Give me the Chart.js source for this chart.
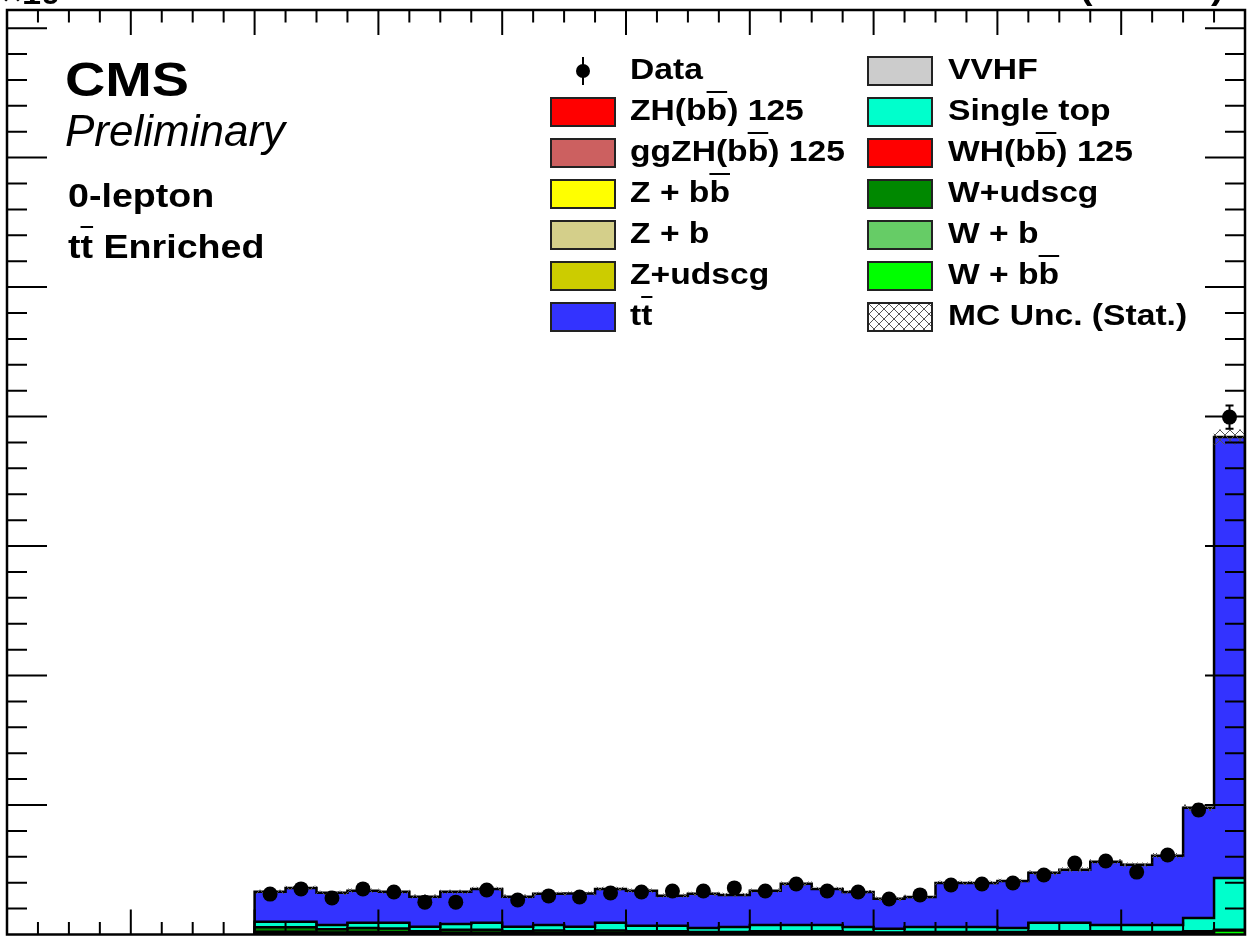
<!DOCTYPE html>
<html>
<head>
<meta charset="utf-8">
<script src="https://cdn.jsdelivr.net/npm/chart.js@4.4.0/dist/chart.umd.min.js"></script>
<style>
  html, body { margin: 0; padding: 0; background: #fff; }
  #wrap { position: relative; width: 1247px; height: 940px; overflow: hidden; font-family: "Liberation Sans", Arial, sans-serif; }
  #wrap canvas { position: absolute; left: 0; top: 0; }
  .t { position: absolute; white-space: nowrap; color: #000; font-weight: bold; line-height: 1; transform-origin: 0 0; transform: scaleX(1.14); }
  .lt { font-size: 29.5px; }
  .ob { text-decoration: overline; text-decoration-thickness: 2px; }
  .box { position: absolute; width: 66px; height: 30px; box-sizing: border-box; border: 2px solid #222; }
</style>
</head>
<body>
<div id="wrap">
  <canvas id="plot" width="1247" height="940"></canvas>

  <div class="t" style="left:2px;top:-21px;font-size:30px;">×10³</div>
  <div class="t" style="left:1080px;top:-29px;font-size:33px;">(13 TeV)</div>

  <div class="t" style="left:65px;top:55px;font-size:49px;">CMS</div>
  <div class="t" style="left:65px;top:109px;font-size:44px;font-weight:normal;font-style:italic;transform:none;">Preliminary</div>
  <div class="t" style="left:68px;top:179px;font-size:33px;">0-lepton</div>
  <div class="t" style="left:68px;top:230px;font-size:33px;">t<span class="ob">t</span> Enriched</div>

  <!-- legend, left column -->
  <div style="position:absolute;left:582px;top:57px;width:2px;height:28px;background:#000;"></div>
  <div style="position:absolute;left:576px;top:64px;width:14px;height:14px;border-radius:50%;background:#000;"></div>
  <div class="t lt" style="left:630px;top:54px;">Data</div>
  <div class="box" style="left:550px;top:97px;background:#ff0000;"></div>
  <div class="t lt" style="left:630px;top:95px;">ZH(b<span class="ob">b</span>) 125</div>
  <div class="box" style="left:550px;top:138px;background:#cc6060;"></div>
  <div class="t lt" style="left:630px;top:136px;">ggZH(b<span class="ob">b</span>) 125</div>
  <div class="box" style="left:550px;top:179px;background:#ffff00;"></div>
  <div class="t lt" style="left:630px;top:177px;">Z + b<span class="ob">b</span></div>
  <div class="box" style="left:550px;top:220px;background:#d4cf8a;"></div>
  <div class="t lt" style="left:630px;top:218px;">Z + b</div>
  <div class="box" style="left:550px;top:261px;background:#cccc00;"></div>
  <div class="t lt" style="left:630px;top:259px;">Z+udscg</div>
  <div class="box" style="left:550px;top:302px;background:#3333ff;"></div>
  <div class="t lt" style="left:630px;top:300px;">t<span class="ob">t</span></div>

  <!-- legend, right column -->
  <div class="box" style="left:867px;top:56px;background:#cccccc;"></div>
  <div class="t lt" style="left:948px;top:54px;">VVHF</div>
  <div class="box" style="left:867px;top:97px;background:#00ffcc;"></div>
  <div class="t lt" style="left:948px;top:95px;">Single top</div>
  <div class="box" style="left:867px;top:138px;background:#ff0000;"></div>
  <div class="t lt" style="left:948px;top:136px;">WH(b<span class="ob">b</span>) 125</div>
  <div class="box" style="left:867px;top:179px;background:#008800;"></div>
  <div class="t lt" style="left:948px;top:177px;">W+udscg</div>
  <div class="box" style="left:867px;top:220px;background:#66cc66;"></div>
  <div class="t lt" style="left:948px;top:218px;">W + b</div>
  <div class="box" style="left:867px;top:261px;background:#00ff00;"></div>
  <div class="t lt" style="left:948px;top:259px;">W + b<span class="ob">b</span></div>
  <div class="box" id="hatchBox" style="left:867px;top:302px;background:#fff;"></div>
  <div class="t lt" style="left:948px;top:300px;">MC Unc. (Stat.)</div>
</div>

<script>
  // binning of the histogram (first filled bin starts at 0.2, 32 bins of 0.025)
  var binStart = 0.2;
  var binWidth = 0.025;

  // data, events per bin
  var dataCounts = [156, 176, 141, 176, 164, 125, 125, 172, 133, 149, 145, 160, 164, 168, 168, 180,
                    168, 195, 168, 164, 137, 153, 191, 195, 199, 230, 276, 284, 241, 307, 481, 1998];
  var dataErr = [12.5, 13.3, 11.9, 13.3, 12.8, 11.2, 11.2, 13.1, 11.5, 12.2, 12.0, 12.6, 12.8, 13.0, 13.0, 13.4,
                 13.0, 14.0, 13.0, 12.8, 11.7, 12.4, 13.8, 14.0, 14.1, 15.2, 16.6, 16.9, 15.5, 17.5, 21.9, 44.7];

  // MC backgrounds, events per bin
  var ttbar = [116, 131, 124, 124, 120, 116, 124, 131, 116, 120, 128, 131, 135, 116, 132, 124,
               132, 159, 139, 135, 116, 116, 170, 170, 182, 193, 205, 244, 232, 267, 425, 1703];
  var singleTop = [21, 21, 17, 20, 22, 17, 23, 27, 17, 22, 17, 30, 21, 21, 15, 19,
                   24, 24, 24, 19, 14, 19, 19, 19, 15, 32, 32, 24, 27, 27, 51, 200];
  var wUdscg = [17, 17, 12, 15, 14, 8, 11, 11, 8, 9, 8, 9, 8, 8, 6, 6,
                8, 8, 8, 6, 5, 6, 6, 6, 6, 8, 8, 8, 6, 6, 8, 2];
  var wB = [6, 6, 4, 5, 5, 3, 4, 4, 3, 3, 3, 3, 3, 3, 2, 2,
            3, 3, 3, 2, 2, 2, 2, 2, 2, 3, 3, 3, 2, 2, 3, 1];
  var wBB = [5, 5, 4, 5, 4, 2, 3, 3, 2, 3, 2, 3, 2, 2, 2, 2,
             2, 2, 2, 2, 1, 2, 2, 2, 2, 2, 2, 2, 2, 2, 2, 15];
  var mcStatUnc = [7, 7, 7, 7, 7, 7, 7, 7, 7, 7, 7, 7, 7, 7, 7, 7,
                   7, 7, 7, 7, 7, 7, 7, 7, 7, 8, 8, 8, 8, 9, 12, 28];

  var nBins = dataCounts.length;
  var binEnd = binStart + nBins * binWidth;

  // hatch pattern for the MC uncertainty band
  var pc = document.createElement('canvas');
  pc.width = 10; pc.height = 10;
  var pg = pc.getContext('2d');
  pg.strokeStyle = '#555';
  pg.lineWidth = 1;
  pg.beginPath();
  pg.moveTo(0, 0); pg.lineTo(10, 10);
  pg.moveTo(10, 0); pg.lineTo(0, 10);
  pg.stroke();
  var hatch = pg.createPattern(pc, 'repeat');
  document.getElementById('hatchBox').style.backgroundImage = 'url(' + pc.toDataURL() + ')';

  // histogram outline points for a cumulative layer
  function stepPoints(cum) {
    var pts = [{x: binStart, y: 0}];
    for (var i = 0; i < nBins; i++) {
      pts.push({x: binStart + i * binWidth, y: cum[i]});
    }
    pts.push({x: binEnd, y: cum[nBins - 1]});
    pts.push({x: binEnd, y: 0});
    return pts;
  }

  var layers = [
    {label: 'W + bb', values: wBB, color: '#00ff00'},
    {label: 'W + b', values: wB, color: '#66cc66'},
    {label: 'W+udscg', values: wUdscg, color: '#008800'},
    {label: 'Single top', values: singleTop, color: '#00ffcc'},
    {label: 'tt', values: ttbar, color: '#3333ff'}
  ];

  var running = new Array(nBins).fill(0);
  var layerSets = layers.map(function(l) {
    running = running.map(function(v, i) { return v + l.values[i]; });
    return {
      type: 'line',
      label: l.label,
      data: stepPoints(running),
      stepped: 'before',
      fill: 'origin',
      backgroundColor: l.color,
      borderColor: '#000',
      borderWidth: 2.5,
      pointRadius: 0
    };
  });
  var total = running;

  var centers = dataCounts.map(function(_, i) { return binStart + (i + 0.5) * binWidth; });

  var dataSet = {
    type: 'line',
    label: 'Data',
    data: centers.map(function(c, i) { return {x: c, y: dataCounts[i]}; }),
    showLine: false,
    pointRadius: 7.5,
    pointBackgroundColor: '#000',
    pointBorderColor: '#000',
    pointBorderWidth: 0
  };

  var uncSet = {
    type: 'bar',
    label: 'MC Unc. (Stat.)',
    data: centers.map(function(c, i) { return {x: c, y: [total[i] - mcStatUnc[i], total[i] + mcStatUnc[i]]}; }),
    backgroundColor: hatch,
    borderWidth: 0,
    barPercentage: 1,
    categoryPercentage: 1
  };

  // vertical error bars with small caps on the data points
  var errorBars = {
    id: 'errorBars',
    afterDatasetsDraw: function(chart) {
      var ctx = chart.ctx, xs = chart.scales.x, ys = chart.scales.y;
      ctx.save();
      ctx.strokeStyle = '#000';
      ctx.lineWidth = 2;
      ctx.beginPath();
      for (var i = 0; i < nBins; i++) {
        var px = xs.getPixelForValue(centers[i]);
        var hi = ys.getPixelForValue(dataCounts[i] + dataErr[i]);
        var lo = ys.getPixelForValue(dataCounts[i] - dataErr[i]);
        ctx.moveTo(px, hi); ctx.lineTo(px, lo);
        ctx.moveTo(px - 4, hi); ctx.lineTo(px + 4, hi);
        ctx.moveTo(px - 4, lo); ctx.lineTo(px + 4, lo);
      }
      ctx.stroke();
      ctx.restore();
    }
  };

  // ROOT style frame with ticks on all four sides
  var frameTicks = {
    id: 'frameTicks',
    afterDraw: function(chart) {
      var ctx = chart.ctx, a = chart.chartArea, xs = chart.scales.x, ys = chart.scales.y;
      ctx.save();
      ctx.strokeStyle = '#000';
      ctx.lineWidth = 2;
      ctx.beginPath();
      for (var k = 0; k <= 40; k++) {
        var px = xs.getPixelForValue(k * binWidth);
        var len = (k % 4 === 0) ? 25 : 12.5;
        ctx.moveTo(px, a.bottom); ctx.lineTo(px, a.bottom - len);
        ctx.moveTo(px, a.top); ctx.lineTo(px, a.top + len);
      }
      for (var v = 100; v < ys.max; v += 100) {
        var py = ys.getPixelForValue(v);
        var l2 = (v % 500 === 0) ? 40 : 20;
        ctx.moveTo(a.left, py); ctx.lineTo(a.left + l2, py);
        ctx.moveTo(a.right, py); ctx.lineTo(a.right - l2, py);
      }
      ctx.stroke();
      ctx.lineWidth = 2.5;
      ctx.strokeRect(a.left, a.top, a.right - a.left, a.bottom - a.top);
      ctx.restore();
    }
  };

  new Chart(document.getElementById('plot'), {
    data: {
      datasets: [dataSet, uncSet].concat(layerSets)
    },
    options: {
      responsive: false,
      animation: false,
      layout: { autoPadding: false, padding: { left: 7, top: 10, right: 2, bottom: 5.5 } },
      plugins: { legend: { display: false }, tooltip: { enabled: false } },
      scales: {
        x: { type: 'linear', min: 0, max: 1, offset: false, display: false },
        y: { type: 'linear', min: 0, max: 3570, display: false }
      }
    },
    plugins: [errorBars, frameTicks]
  });
</script>
</body>
</html>
